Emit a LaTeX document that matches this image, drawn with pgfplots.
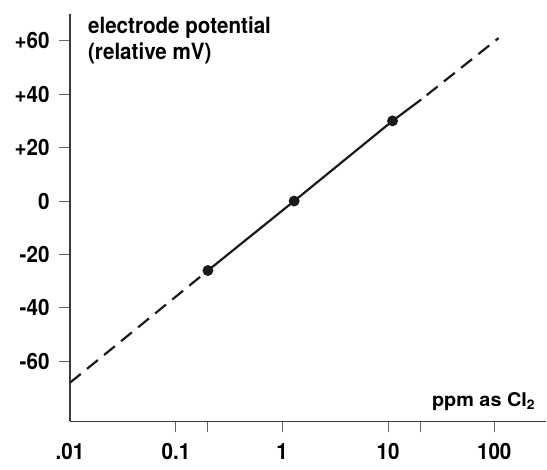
\documentclass[border=0pt]{standalone}
\usepackage{fontspec}
\setmainfont{TeX Gyre Heros}[FakeStretch=0.92]
\newfontfamily\widefont{TeX Gyre Heros}[FakeStretch=1.05]
\usepackage{pgfplots}
\pgfplotsset{compat=1.18}
\definecolor{axiscol}{HTML}{3A3A3A}
\definecolor{tickcol}{HTML}{666666}
\definecolor{linecol}{HTML}{1A1A1A}

\begin{document}
\begin{tikzpicture}[font=\fontsize{22.5}{26}\selectfont\bfseries]
\begin{axis}[
  scale only axis, width=477bp, height=408bp,
  xmode=log, xmin=0.01, xmax=310,
  ymin=-82.5, ymax=70,
  axis lines*=left,
  axis line style={axiscol, line width=1.3bp},
  xtick={0.1,0.2,1,10,20,100},
  xticklabels={0.1,,1,10,,100},
  extra x ticks={0.01}, extra x tick labels={.01},
  extra x tick style={major tick style={draw=none}},
  ytick={-60,-40,-20,0,20,40,60},
  yticklabels={-60,-40,-20,0,+20,+40,+60},
  minor tick num=0, minor x tick num=0,
  log ticks with fixed point,
  tick align=outside,
  major tick length=11bp,
  tick style={tickcol, line width=1bp},
  xticklabel style={yshift=-7.5bp},
  yticklabel style={xshift=-6bp},
  clip=false,
]
% extrapolated part below the calibration range
\addplot[linecol, line width=2.2bp, dash pattern=on 14bp off 8bp] coordinates
  {(0.01,-68) (0.2,-26)};
% calibration points
\addplot[linecol, line width=2.2bp, mark=*, mark size=4.3bp,
  mark options={solid, fill=linecol}, mark indices={1,2,3}] coordinates
  {(0.2,-26) (1.3,0) (11,30) (20.5,38)};
% extrapolated part above
\addplot[linecol, line width=2.2bp, dash pattern=on 14bp off 8bp, dash phase=15bp] coordinates
  {(20.5,38) (110,61)};
\node[anchor=north west, align=left, inner sep=0pt] at ([xshift=18bp,yshift=-3bp]rel axis cs:0,1)
  {electrode potential\\(relative mV)};
\node[anchor=base east, inner sep=0pt, font=\widefont\fontsize{19}{23}\selectfont\bfseries]
  at ([xshift=-11bp,yshift=15.3bp]rel axis cs:1,0)
  {ppm as Cl\textsubscript{2}};
\end{axis}
\useasboundingbox (-70bp,-48bp) rectangle (477bp,422bp);
\end{tikzpicture}
\end{document}
